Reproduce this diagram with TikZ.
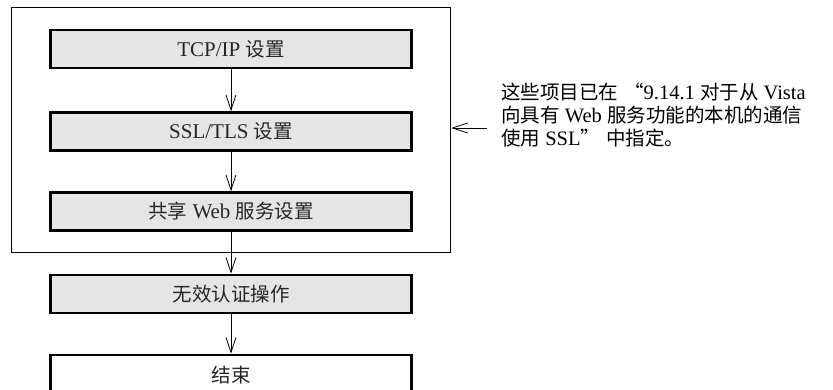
\documentclass[tikz,border=0pt]{standalone}
\usepackage{fontspec}
\setmainfont{Liberation Serif}
\newfontfamily\cjk{Noto Sans CJK SC}
\newcommand{\zh}[1]{{\cjk\fontsize{19.5}{23}\selectfont #1}}
\usetikzlibrary{arrows.meta,fit}
\colorlet{gfill}{black!10}
\colorlet{ink}{black!85}
\tikzset{
  >={Straight Barb[length=15pt,width=10pt]},
  every node/.style={font=\fontsize{21}{23}\selectfont,text=ink},
  blk/.style={draw=black,line width=2.6pt,fill=gfill,minimum width=361pt,minimum height=38pt,inner sep=0pt},
  endblk/.style={blk,fill=white,minimum height=40pt},
  grpbox/.style={draw=black,line width=1.3pt,inner xsep=38pt,inner ysep=21pt},
  flow/.style={->,line width=0.8pt},
  note/.style={align=left,anchor=west,inner sep=0pt,text=black,font=\fontsize{20.5}{23}\selectfont},
}

\begin{document}
\begin{tikzpicture}[x=1pt,y=1pt]
  \useasboundingbox (0,0) rectangle (833,-389);

  % ---------------- settings group
  \node[blk] (tcp) at (231,-49)    {TCP/IP \zh{设置}};
  \node[blk] (ssl) at (231,-131.5) {SSL/TLS \zh{设置}};
  \node[blk] (web) at (231,-211.5) {\zh{共享} Web \zh{服务设置}};
  \node[grpbox,fit=(tcp)(web)] (grp) {};
  \draw[flow] (tcp) -- (ssl);
  \draw[flow] (ssl) -- (web);

  % ---------------- remaining steps
  \node[blk] (inv) at (231,-294) {\zh{无效认证操作}};
  \node[endblk] (fin) at (231,-375) {\zh{结束}};
  \draw[flow] (web) -- (inv);
  \draw[flow] (inv) -- (fin);

  % ---------------- note
  \node[note] (note) at (501,-115) {\zh{这些项目已在}\hspace{6pt}\zh{“}9.14.1 \zh{对于从} Vista\\
    \zh{向具有} Web \zh{服务功能的本机的通信}\\
    \zh{使用} SSL\zh{”}\hspace{6pt}\zh{中指定。}};
  \coordinate (ptr) at (487,-128);
  \draw[flow] (ptr) -- (grp.east |- ptr);
\end{tikzpicture}
\end{document}
